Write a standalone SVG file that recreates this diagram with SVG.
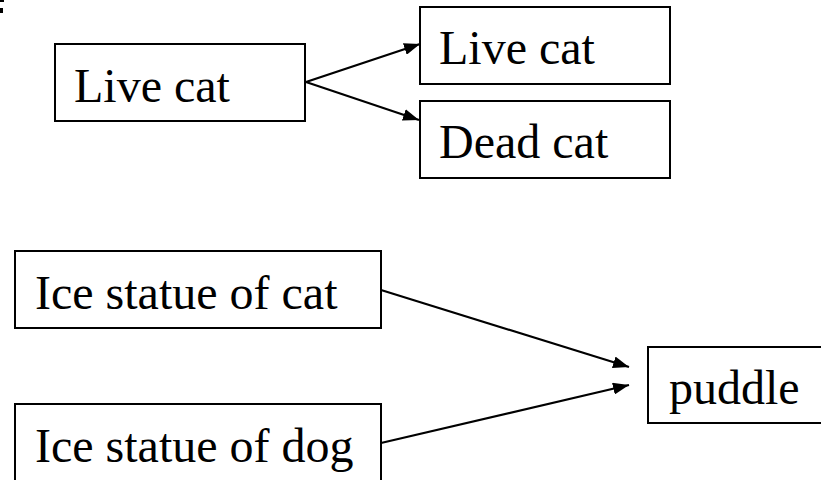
<svg xmlns="http://www.w3.org/2000/svg" width="821" height="480" viewBox="0 0 821 480">
<style>
.box{fill:#fff;stroke:#000;stroke-width:2}
.lbl{font-family:'Liberation Serif','Times New Roman',serif;font-size:48px;fill:#000}
.edge{fill:none;stroke:#000;stroke-width:2.2}
</style>
<defs>
<marker id="ah" markerWidth="16" markerHeight="12" refX="16" refY="6" orient="auto" markerUnits="userSpaceOnUse">
<path d="M0,0 L16,6 L0,12 z" fill="#000"/>
</marker>
</defs>
<rect x="0" y="0" width="4" height="2" fill="#000"/>
<rect x="0" y="8" width="3" height="5" fill="#000"/>
<g id="n1"><rect class="box" x="55" y="44" width="250" height="77"/><text class="lbl" x="74" y="102">Live cat</text></g>
<g id="n2"><rect class="box" x="420" y="7" width="250" height="77"/><text class="lbl" x="439" y="64">Live cat</text></g>
<g id="n3"><rect class="box" x="420" y="101" width="250" height="77"/><text class="lbl" x="439" y="158">Dead cat</text></g>
<g id="n4"><rect class="box" x="15" y="251" width="366" height="77"/><text class="lbl" x="35" y="309">Ice statue of cat</text></g>
<g id="n5"><rect class="box" x="15" y="404" width="366" height="90"/><text class="lbl" x="35" y="462">Ice statue of dog</text></g>
<g id="n6"><rect class="box" x="648" y="347" width="180" height="76"/><text class="lbl" x="669" y="404">puddle</text></g>
<g id="edges">
<line class="edge" x1="306" y1="82" x2="420" y2="44" marker-end="url(#ah)"/>
<line class="edge" x1="306" y1="82" x2="419" y2="120" marker-end="url(#ah)"/>
<line class="edge" x1="381" y1="290" x2="629" y2="367" marker-end="url(#ah)"/>
<line class="edge" x1="381" y1="443" x2="629" y2="385" marker-end="url(#ah)"/>
</g>
</svg>
